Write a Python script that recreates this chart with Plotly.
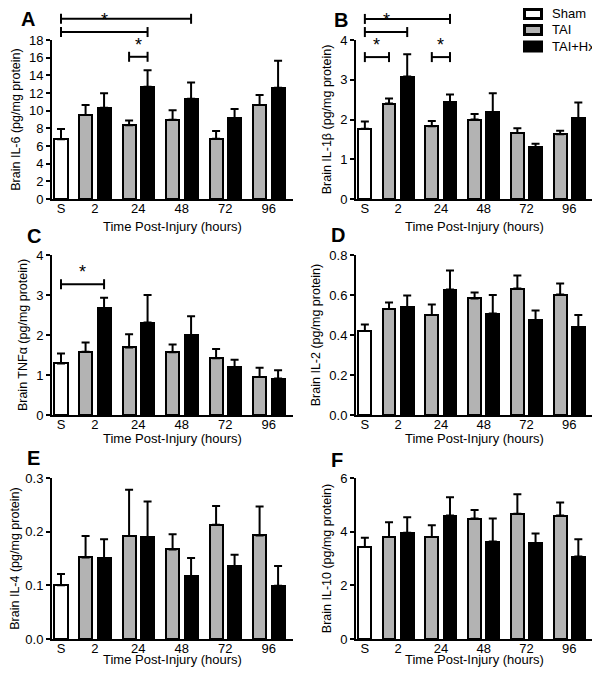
import plotly.graph_objects as go

FONT = "Liberation Sans, Arial, sans-serif"
GRAY = "#b3b3b3"

GROUPS = ["Sham", "TAI", "TAI+Hx"]
GROUP_COLORS = ["white", GRAY, "black"]
TIMES = ["2", "24", "48", "72", "96"]
SHAM_LABEL = "S"
X_TITLE = "Time Post-Injury (hours)"

# panel A - IL-6
il6_sham, il6_sham_sem = 6.75, 1.17
il6_tai = [9.5, 8.34, 8.98, 6.83, 10.64]
il6_tai_sem = [1.14, 0.56, 1.06, 0.87, 1.13]
il6_hx = [10.34, 12.72, 11.36, 9.17, 12.6]
il6_hx_sem = [1.62, 1.85, 1.84, 1.03, 3.06]

# panel B - IL-1beta
il1b_sham, il1b_sham_sem = 1.77, 0.18
il1b_tai = [2.4, 1.83, 2.0, 1.66, 1.63]
il1b_tai_sem = [0.13, 0.13, 0.14, 0.12, 0.09]
il1b_hx = [3.08, 2.43, 2.19, 1.3, 2.03]
il1b_hx_sem = [0.56, 0.2, 0.47, 0.09, 0.4]

# panel C - TNF-alpha
tnf_sham, tnf_sham_sem = 1.29, 0.25
tnf_tai = [1.58, 1.69, 1.57, 1.42, 0.95]
tnf_tai_sem = [0.23, 0.33, 0.19, 0.23, 0.23]
tnf_hx = [2.67, 2.31, 2.0, 1.19, 0.91]
tnf_hx_sem = [0.26, 0.69, 0.47, 0.19, 0.21]

# panel D - IL-2
il2_sham, il2_sham_sem = 0.42, 0.033
il2_tai = [0.53, 0.5, 0.583, 0.632, 0.602]
il2_tai_sem = [0.033, 0.053, 0.029, 0.066, 0.056]
il2_hx = [0.538, 0.627, 0.507, 0.475, 0.44]
il2_hx_sem = [0.059, 0.096, 0.093, 0.047, 0.06]

# panel E - IL-4
il4_sham, il4_sham_sem = 0.1, 0.021
il4_tai = [0.152, 0.192, 0.167, 0.213, 0.193]
il4_tai_sem = [0.04, 0.086, 0.028, 0.035, 0.054]
il4_hx = [0.151, 0.19, 0.117, 0.136, 0.099]
il4_hx_sem = [0.035, 0.066, 0.034, 0.021, 0.037]

# panel F - IL-10
il10_sham, il10_sham_sem = 3.43, 0.34
il10_tai = [3.8, 3.8, 4.49, 4.67, 4.6]
il10_tai_sem = [0.55, 0.44, 0.32, 0.72, 0.49]
il10_hx = [3.96, 4.6, 3.63, 3.56, 3.07]
il10_hx_sem = [0.58, 0.68, 0.86, 0.37, 0.65]

# significance brackets: (from bar, to bar, height in axis units)
# bars are named "S", "tai0".."tai4", "hx0".."hx4"
sig_a = [("S", "hx2", 20.4), ("S", "hx1", 18.9), ("tai1", "hx1", 16.1)]
sig_b = [("S", "hx1", 4.53), ("S", "hx0", 4.2), ("S", "tai0", 3.57), ("tai1", "hx1", 3.57)]
sig_c = [("S", "hx0", 3.27)]

# bar positions on the x axis (one unit = spacing between time groups)
TAI_OFF, HX_OFF, BAR_W = 0.565, 0.99, 0.3
X_RANGE = [-0.207, 5.333]


def bar_x(name):
    if name == "S":
        return 0.0
    if name.startswith("tai"):
        return TAI_OFF + int(name[3:])
    return HX_OFF + int(name[2:])


panels = [
    dict(letter="A", title="Brain IL-6 (pg/mg protein)", ymax=18, dtick=2, fmt="d",
         sham=il6_sham, sham_sem=il6_sham_sem, tai=il6_tai, tai_sem=il6_tai_sem,
         hx=il6_hx, hx_sem=il6_hx_sem, sig=sig_a),
    dict(letter="B", title="Brain IL-1\u03b2 (pg/mg protein)", ymax=4, dtick=1, fmt="d",
         sham=il1b_sham, sham_sem=il1b_sham_sem, tai=il1b_tai, tai_sem=il1b_tai_sem,
         hx=il1b_hx, hx_sem=il1b_hx_sem, sig=sig_b),
    dict(letter="C", title="Brain TNF\u03b1 (pg/mg protein)", ymax=4, dtick=1, fmt="d",
         sham=tnf_sham, sham_sem=tnf_sham_sem, tai=tnf_tai, tai_sem=tnf_tai_sem,
         hx=tnf_hx, hx_sem=tnf_hx_sem, sig=sig_c),
    dict(letter="D", title="Brain IL-2 (pg/mg protein)", ymax=0.8, dtick=0.2, fmt=".1f",
         sham=il2_sham, sham_sem=il2_sham_sem, tai=il2_tai, tai_sem=il2_tai_sem,
         hx=il2_hx, hx_sem=il2_hx_sem, sig=[]),
    dict(letter="E", title="Brain IL-4 (pg/mg protein)", ymax=0.3, dtick=0.1, fmt=".1f",
         sham=il4_sham, sham_sem=il4_sham_sem, tai=il4_tai, tai_sem=il4_tai_sem,
         hx=il4_hx, hx_sem=il4_hx_sem, sig=[]),
    dict(letter="F", title="Brain IL-10 (pg/mg protein)", ymax=6, dtick=2, fmt="d",
         sham=il10_sham, sham_sem=il10_sham_sem, tai=il10_tai, tai_sem=il10_tai_sem,
         hx=il10_hx, hx_sem=il10_hx_sem, sig=[]),
]

# the page body has an 8px margin, so the figure is made smaller and every
# position below is given in window pixels and shifted back by that margin
OFF = 8
W, H = 600 - OFF, 676 - 2 * OFF
COLS = [(52, 293), (356, 593)]               # plot area, window px from left
ROWS = [(40, 199), (255, 415), (478, 639)]   # plot area, window px from top
X_TITLE_Y = [226, 438, 659]
LETTER_POS = [(28, 19), (341, 20), (34, 236), (338, 235), (33, 458), (337, 460)]
LEGEND_Y = [14, 30, 46.5]


def px(xp):
    return (xp - OFF) / W


def py(yp):
    return 1 - (yp - OFF) / H


fig = go.Figure()


def err(sem):
    return dict(type="data", symmetric=False, array=sem, arrayminus=[0] * len(sem),
                color="black", thickness=2, width=4)


for i, p in enumerate(panels):
    n = "" if i == 0 else str(i + 1)
    xa, ya = "x" + n, "y" + n
    col, row = COLS[i % 2], ROWS[i // 2]
    tai_x = [TAI_OFF + k for k in range(len(TIMES))]
    hx_x = [HX_OFF + k for k in range(len(TIMES))]
    common = dict(xaxis=xa, yaxis=ya, width=BAR_W, marker_line=dict(color="black", width=2),
                  showlegend=False)
    fig.add_trace(go.Bar(x=[0], y=[p["sham"]], name=GROUPS[0], marker_color=GROUP_COLORS[0],
                         error_y=err([p["sham_sem"]]), **common))
    fig.add_trace(go.Bar(x=tai_x, y=p["tai"], name=GROUPS[1], marker_color=GROUP_COLORS[1],
                         error_y=err(p["tai_sem"]), **common))
    fig.add_trace(go.Bar(x=hx_x, y=p["hx"], name=GROUPS[2], marker_color=GROUP_COLORS[2],
                         error_y=err(p["hx_sem"]), **common))

    ticks = [0] + [(TAI_OFF + HX_OFF) / 2 + k for k in range(len(TIMES))]
    fig.layout["xaxis" + n] = dict(
        domain=[px(col[0]), px(col[1])], anchor=ya, range=X_RANGE, automargin=False,
        tickvals=ticks, ticktext=[SHAM_LABEL] + TIMES, ticks="", ticklabelstandoff=-4,
        showline=True, linecolor="black", linewidth=2, showgrid=False, zeroline=False,
        tickfont=dict(size=13, color="black"),
    )
    fig.layout["yaxis" + n] = dict(
        domain=[py(row[1]), py(row[0])], anchor=xa, range=[0, p["ymax"]],
        automargin=False,
        dtick=p["dtick"], tickformat=p["fmt"], ticks="outside", ticklen=4, tickwidth=2,
        tickcolor="black", showline=True, linecolor="black", linewidth=2,
        showgrid=False, zeroline=False, tickfont=dict(size=13, color="black"),
        title=dict(text=p["title"], font=dict(size=12.5, color="black"), standoff=6),
    )
    fig.add_annotation(x=px((col[0] + col[1]) / 2), y=py(X_TITLE_Y[i // 2]), xref="paper", yref="paper",
                       text=X_TITLE, showarrow=False, xanchor="center", yanchor="middle",
                       font=dict(size=13, color="black", family=FONT))

    # significance brackets
    tick_h = 5 / (row[1] - row[0])
    for a, b, level in p["sig"]:
        yd = level / p["ymax"]
        x0, x1 = bar_x(a), bar_x(b)
        line = dict(color="black", width=2)
        fig.add_shape(type="line", xref=xa, yref=ya + " domain", x0=x0, x1=x1, y0=yd, y1=yd, line=line)
        for xe in (x0, x1):
            fig.add_shape(type="line", xref=xa, yref=ya + " domain", x0=xe, x1=xe,
                          y0=yd - tick_h, y1=yd + tick_h, line=line)
        fig.add_annotation(x=(x0 + x1) / 2, y=yd, xref=xa, yref=ya + " domain", text="*",
                           showarrow=False, yanchor="bottom", yshift=0,
                           font=dict(size=18, color="black", family=FONT))

    lx, ly = LETTER_POS[i]
    fig.add_annotation(x=px(lx), y=py(ly), xref="paper", yref="paper", text="<b>%s</b>" % p["letter"],
                       showarrow=False, xanchor="center", yanchor="middle",
                       font=dict(size=20, color="black", family=FONT))

# legend drawn as boxes + labels
for name, color, ly in zip(GROUPS, GROUP_COLORS, LEGEND_Y):
    fig.add_shape(type="rect", xref="paper", yref="paper", x0=px(524.5), x1=px(541.5),
                  y0=py(ly + 4.5), y1=py(ly - 4.5), fillcolor=color, line=dict(color="black", width=3))
    fig.add_annotation(x=px(550), y=py(ly), xref="paper", yref="paper", text=name, showarrow=False,
                       xanchor="left", yanchor="middle", font=dict(size=13, color="black", family=FONT))

fig.update_layout(
    width=W, height=H, margin=dict(l=0, r=0, t=0, b=0),
    paper_bgcolor="white", plot_bgcolor="white",
    font=dict(family=FONT, color="black"),
    barmode="overlay", bargap=0, showlegend=False,
)

fig.write_html("out.html")
